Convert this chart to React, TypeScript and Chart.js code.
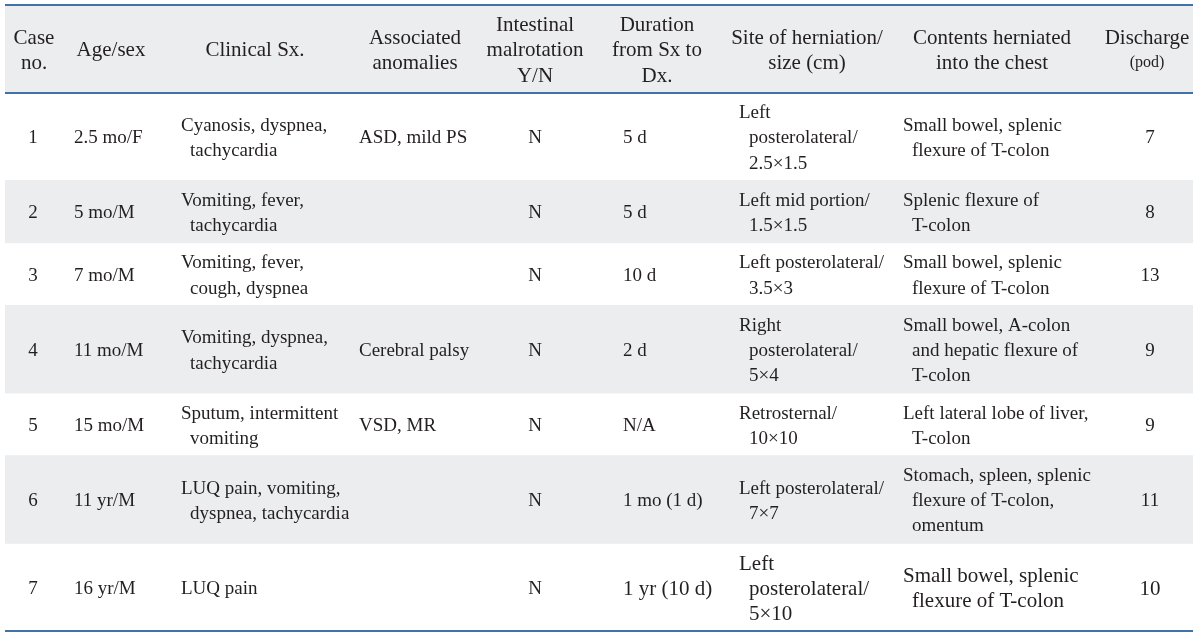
import React, { useEffect, useRef } from 'react';
import { Chart, registerables } from 'chart.js';

Chart.register(...registerables);

// ---------- data ----------
const headers: string[][] = [
  ['Case', 'no.'],
  ['Age/sex'],
  ['Clinical Sx.'],
  ['Associated', 'anomalies'],
  ['Intestinal', 'malrotation', 'Y/N'],
  ['Duration', 'from Sx to', 'Dx.'],
  ['Site of herniation/', 'size (cm)'],
  ['Contents herniated', 'into the chest'],
  ['Discharge', '(pod)'],
];

const caseNo: string[] = ['1', '2', '3', '4', '5', '6', '7'];
const ageSex: string[] = ['2.5 mo/F', '5 mo/M', '7 mo/M', '11 mo/M', '15 mo/M', '11 yr/M', '16 yr/M'];
const clinicalSx: string[][] = [
  ['Cyanosis, dyspnea,', 'tachycardia'],
  ['Vomiting, fever,', 'tachycardia'],
  ['Vomiting, fever,', 'cough, dyspnea'],
  ['Vomiting, dyspnea,', 'tachycardia'],
  ['Sputum, intermittent', 'vomiting'],
  ['LUQ pain, vomiting,', 'dyspnea, tachycardia'],
  ['LUQ pain'],
];
const anomalies: string[][] = [['ASD, mild PS'], [], [], ['Cerebral palsy'], ['VSD, MR'], [], []];
const malrotation: string[] = ['N', 'N', 'N', 'N', 'N', 'N', 'N'];
const duration: string[] = ['5 d', '5 d', '10 d', '2 d', 'N/A', '1 mo (1 d)', '1 yr (10 d)'];
const site: string[][] = [
  ['Left', 'posterolateral/', '2.5×1.5'],
  ['Left mid portion/', '1.5×1.5'],
  ['Left posterolateral/', '3.5×3'],
  ['Right', 'posterolateral/', '5×4'],
  ['Retrosternal/', '10×10'],
  ['Left posterolateral/', '7×7'],
  ['Left', 'posterolateral/', '5×10'],
];
const contents: string[][] = [
  ['Small bowel, splenic', 'flexure of T-colon'],
  ['Splenic flexure of', 'T-colon'],
  ['Small bowel, splenic', 'flexure of T-colon'],
  ['Small bowel, A-colon', 'and hepatic flexure of', 'T-colon'],
  ['Left lateral lobe of liver,', 'T-colon'],
  ['Stomach, spleen, splenic', 'flexure of T-colon,', 'omentum'],
  ['Small bowel, splenic', 'flexure of T-colon'],
];
const discharge: number[] = [7, 8, 13, 9, 9, 11, 10];
const shadedRows: number[] = [2, 4, 6]; // case numbers with grey background

// ---------- layout / style ----------
type Col = { head: number; mode: 'center' | 'left'; pos: number; indent: number };
const COLS: Col[] = [
  { head: 34, mode: 'center', pos: 33, indent: 0 },
  { head: 111, mode: 'left', pos: 74, indent: 0 },
  { head: 255, mode: 'left', pos: 181, indent: 9 },
  { head: 415, mode: 'left', pos: 359, indent: 9 },
  { head: 535, mode: 'center', pos: 535, indent: 0 },
  { head: 657, mode: 'left', pos: 623, indent: 0 },
  { head: 807, mode: 'left', pos: 739, indent: 10 },
  { head: 992, mode: 'left', pos: 903, indent: 9 },
  { head: 1147, mode: 'center', pos: 1150, indent: 0 },
];
const PAD = 0.48;
const FONT = '"Liberation Serif", "Times New Roman", serif';
const TEXT = '#231f20';
const GREY = '#ecedee';
const BLUE = '#4272a8';
const BODY_PX = 19;
const BIG_PX = 21;
const HEAD_PX = 21;

const rowCells: string[][][] = caseNo.map((_, i) => [
  [caseNo[i]],
  [ageSex[i]],
  clinicalSx[i],
  anomalies[i],
  [malrotation[i]],
  [duration[i]],
  site[i],
  contents[i],
  [String(discharge[i])],
]);
const headerLines = Math.max(...headers.map((h) => h.length));
const rowLines = rowCells.map((r) => Math.max(...r.map((c) => c.length)));
const bounds: number[] = [0];
[headerLines, ...rowLines].forEach((n) => bounds.push(bounds[bounds.length - 1] + n + PAD));

const tablePlugin = {
  id: 'tableText',
  afterDatasetsDraw(chart: any) {
    const { ctx } = chart;
    const y = chart.scales.y;
    const xc = chart.scales.xc;
    const area = chart.chartArea;
    ctx.save();
    // rules
    ctx.strokeStyle = BLUE;
    ctx.lineWidth = 2;
    [bounds[0], bounds[1], bounds[bounds.length - 1]].forEach((v) => {
      const py = Math.round(y.getPixelForValue(v));
      ctx.beginPath();
      ctx.moveTo(area.left, py);
      ctx.lineTo(area.right, py);
      ctx.stroke();
    });
    ctx.fillStyle = TEXT;
    ctx.textBaseline = 'alphabetic';
    const drawCell = (lines: string[], rowIdx: number, col: Col, header: boolean, sizes: number[]) => {
      const start = bounds[rowIdx];
      const N = rowIdx === 0 ? headerLines : rowLines[rowIdx - 1];
      const n = lines.length;
      lines.forEach((txt, j) => {
        const fs = sizes[j];
        ctx.font = `${fs}px ${FONT}`;
        const cy = y.getPixelForValue(start + PAD / 2 + (N - n) / 2 + j + 0.5);
        const base = cy + fs * 0.36;
        if (header || col.mode === 'center') {
          ctx.textAlign = 'center';
          ctx.fillText(txt, xc.getPixelForValue(header ? col.head : col.pos), base);
        } else {
          ctx.textAlign = 'left';
          ctx.fillText(txt, xc.getPixelForValue(col.pos + (j > 0 ? col.indent : 0)), base);
        }
      });
    };
    headers.forEach((h, c) => {
      const sizes = h.map((t, j) => (c === 8 && j === 1 ? 16 : HEAD_PX));
      drawCell(h, 0, COLS[c], true, sizes);
    });
    rowCells.forEach((r, i) => {
      r.forEach((cell, c) => {
        const big = i === rowCells.length - 1 && c >= 5;
        drawCell(cell, i + 1, COLS[c], false, cell.map(() => (big ? BIG_PX : BODY_PX)));
      });
    });
    ctx.restore();
  },
};

export default function App() {
  const ref = useRef<HTMLCanvasElement | null>(null);
  useEffect(() => {
    document.body.style.margin = '0';
    if (!ref.current) return;
    const bands = [[bounds[0], bounds[1]], ...shadedRows.map((c) => [bounds[c], bounds[c + 1]])];
    const chart = new Chart(ref.current, {
      type: 'bar',
      data: {
        labels: ['table'],
        datasets: bands.map((b, i) => ({
          label: i === 0 ? 'header' : `row ${shadedRows[i - 1]}`,
          data: [b as [number, number]],
          backgroundColor: GREY,
          borderWidth: 0,
          grouped: false,
          barPercentage: 1,
          categoryPercentage: 1,
        })),
      },
      options: {
        responsive: false,
        animation: false,
        devicePixelRatio: 1,
        layout: { padding: { left: 5, right: 7, top: 5, bottom: 5 } },
        plugins: { legend: { display: false }, tooltip: { enabled: false } },
        scales: {
          x: { display: false, grid: { display: false } },
          xc: { type: 'linear', display: false, min: 5, max: 1193, offset: false, position: 'bottom' },
          y: { type: 'linear', display: false, reverse: true, min: 0, max: bounds[bounds.length - 1] },
        },
      },
      plugins: [tablePlugin],
    });
    return () => chart.destroy();
  }, []);
  return (
    <div style={{ width: 1200, height: 636, background: '#fff' }}>
      <canvas ref={ref} width={1200} height={636} />
    </div>
  );
}
